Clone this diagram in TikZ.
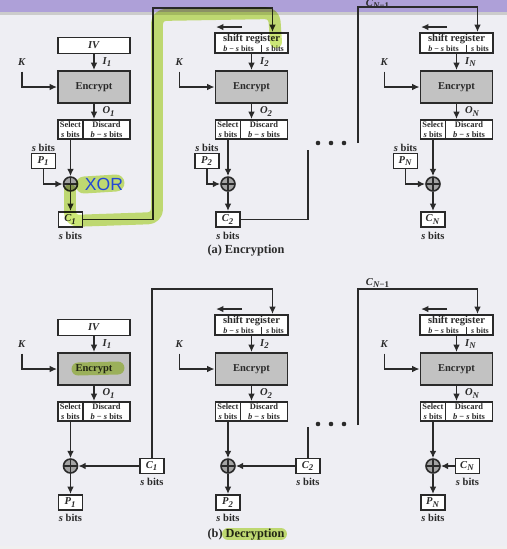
\documentclass[tikz,border=0pt]{standalone}
\usepackage{fontspec}
\setmainfont{Liberation Serif}
\setsansfont{Liberation Sans}
\usetikzlibrary{arrows.meta,calc}

\definecolor{ink}{HTML}{2A2A2A}
\definecolor{paper}{HTML}{EEEEF3}
\definecolor{band}{HTML}{AEA0D8}
\definecolor{encgray}{HTML}{C2C2C2}
\definecolor{xorgray}{HTML}{A4A4A4}
\definecolor{marker}{HTML}{BCE04A}
\definecolor{pen}{HTML}{2347D6}

\tikzset{
  every node/.style={font=\fontsize{6}{7}\selectfont\bfseries, text=ink},
  small/.style={font=\fontsize{4.8}{5.4}\selectfont\bfseries},
  blk/.style={draw=ink, line width=1.1pt, fill=white, inner sep=0pt},
  ivbox/.style={blk, minimum width=1.44cm, minimum height=0.32cm},
  encbox/.style={blk, fill=encgray, minimum width=1.44cm, minimum height=0.64cm},
  shiftbox/.style={blk, align=center, minimum width=1.46cm, minimum height=0.40cm},
  selbox/.style={blk, small, align=center, minimum width=0.5cm, minimum height=0.38cm},
  disbox/.style={blk, small, align=center, minimum width=0.94cm, minimum height=0.38cm},
  bitbox/.style={blk, minimum width=0.48cm, minimum height=0.30cm},
  xorop/.style={circle, draw=ink, line width=0.9pt, fill=xorgray, minimum size=0.28cm, inner sep=0pt,
    path picture={\draw[ink, line width=0.7pt] (path picture bounding box.north) -- (path picture bounding box.south)
      (path picture bounding box.west) -- (path picture bounding box.east);}},
  arr/.style={draw=ink, line width=1.1pt, -{Latex[length=4.2pt,width=3.8pt]}},
  wire/.style={draw=ink, line width=1.1pt},
  hilite/.style={draw=marker, opacity=0.75, line cap=round, line join=round, rounded corners=5pt},
  caption/.style={font=\fontsize{7}{8}\selectfont\bfseries},
}

\newcommand{\shiftreg}{shift register\\[-1.5pt]{\fontsize{4.6}{5}\selectfont
  \makebox[0.94cm]{\textit{b} − \textit{s} bits}\makebox[0.52cm]{\textit{s} bits}}}

\begin{document}
\begin{tikzpicture}[x={(0.02cm,0)}, y={(0,-0.02cm)}]
    \useasboundingbox (0,0) rectangle (507,549);
    \fill[paper] (0,0) rectangle (507,549);
    \fill[band] (0,0) rectangle (507,12);
    \fill[gray!40] (0,12) rectangle (507,15);
    \fill[gray!12] (0,546) rectangle (507,549);

    % inputs of the first block and shift registers
    \node[ivbox] (ina1) at (94,45.5) {\textit{IV}};
    \node[ivbox] (inb1) at (94,327.5) {\textit{IV}};
    \node[shiftbox] (ina2) at (251.5,43) {\shiftreg};
    \node[shiftbox] (inaN) at (456.5,43) {\shiftreg};
    \node[shiftbox] (inb2) at (251.5,325) {\shiftreg};
    \node[shiftbox] (inbN) at (456.5,325) {\shiftreg};
    \foreach \r in {a2,aN,b2,bN}{
        \draw[arr] ($(in\r.north west)+(28,-5)$) -- ++(-26,0);
        \draw[wire, line width=0.6pt] ($(in\r.south west)+(47,0)$) -- ++(0,-9);
    }

    % the cipher blocks, same in both halves
    \foreach \h/\dy in {a/0, b/282}{
        \foreach \n/\cx in {1/94, 2/251.5, N/456.5}{
            \node[encbox] (encr\h\n) at (\cx,87+\dy) {Encrypt};
            \node[selbox] (sel\h\n) at (\cx-23.5,129.5+\dy) {Select\\\textit{s} bits};
            \node[disbox] (dis\h\n) at (\cx+12.5,129.5+\dy) {Discard\\\textit{b} − \textit{s} bits};
            \node (key\h\n) at (\cx-72,62+\dy) {\textit{K}};
            \draw[arr] (key\h\n) |- (encr\h\n);
            \draw[arr] (in\h\n) -- (encr\h\n) node[midway, right=1pt] {\textit{I}\textsubscript{\textit{\n}}};
            \draw[arr] (encr\h\n) -- (encr\h\n |- dis\h\n.north) node[midway, right=1pt] {\textit{O}\textsubscript{\textit{\n}}};
            \node[xorop] (x\h\n) at (\cx-23.5,184+\dy) {};
            \draw[arr] (sel\h\n) -- (x\h\n);
        }
    }

    % (a) encryption
    \foreach \n/\px in {1/43.5, 2/207, N/405.5}{
        \node[bitbox] (pa\n) at (\px,161) {\textit{P}\textsubscript{\textit{\n}}};
        \node (spa\n) at (\px,147.5) {\textit{s} bits};
        \node[bitbox] (ca\n) at ($(xa\n)+(0,35.5)$) {\textit{C}\textsubscript{\textit{\n}}};
        \node (sca\n) at ($(ca\n)+(0,16.5)$) {\textit{s} bits};
        \draw[arr] (pa\n) |- (xa\n);
        \draw[arr] (xa\n) -- (ca\n);
    }
    \coordinate (upa1) at (153,8);
    \draw[arr] (ca1) -| (upa1) -| ($(ina2.north)+(21,0)$);
    \coordinate (gapa2) at (308,150);
    \draw[wire] (ca2) -| (gapa2);
    \foreach \dx in {318,331,344} \fill[ink] (\dx,143) circle (1.3pt);
    \coordinate (backa2) at (358,143);
    \draw[arr] (backa2) |- ($(inaN.north)+(21,-25)$) -- ($(inaN.north)+(21,0)$);
    \node (cna) at (378,4) {\textit{C}\textsubscript{\textit{N}−1}};
    \node[caption] (capa) at (246,251) {(a) Encryption};

    % (b) decryption
    \foreach \n/\cxx in {1/152, 2/308, N/467.5}{
        \node[bitbox] (pb\n) at ($(xb\n)+(0,36.5)$) {\textit{P}\textsubscript{\textit{\n}}};
        \node (spb\n) at ($(pb\n)+(0,15.5)$) {\textit{s} bits};
        \node[bitbox] (cb\n) at (\cxx,466) {\textit{C}\textsubscript{\textit{\n}}};
        \node (scb\n) at ($(cb\n)+(0,16)$) {\textit{s} bits};
        \draw[arr] (xb\n) -- (pb\n);
        \draw[arr] (cb\n) -- (xb\n);
    }
    \draw[arr] (cb1) |- ($(inb2.north)+(21,-25)$) -- ($(inb2.north)+(21,0)$);
    \coordinate (gapb2) at (308,427);
    \draw[wire] (cb2) -- (gapb2);
    \foreach \dx in {318,331,344} \fill[ink] (\dx,424) circle (1.3pt);
    \coordinate (backb2) at (358,425);
    \draw[arr] (backb2) |- ($(inbN.north)+(21,-25)$) -- ($(inbN.north)+(21,0)$);
    \node (cnb) at (378,283) {\textit{C}\textsubscript{\textit{N}−1}};
    \node[caption] (capb) at (246,535) {(b) Decryption};

    % marker strokes
    \begin{scope}[blend mode=multiply]
        \draw[hilite, line width=0.24cm] (70,190) -- (70,221) -- (157,218) -- (157,15) -- (274,13) -- (276,42);
        \draw[hilite, line width=0.34cm] (84,185) -- (116,183);
        \draw[hilite, line width=0.26cm] (78,369) -- (118,368);
        \draw[hilite, line width=0.24cm] (228,534) -- (281,534);
    \end{scope}
    \node[text=pen, font=\fontsize{10}{10}\sffamily] (xorword) at (104,184) {XOR};
\end{tikzpicture}
\end{document}
